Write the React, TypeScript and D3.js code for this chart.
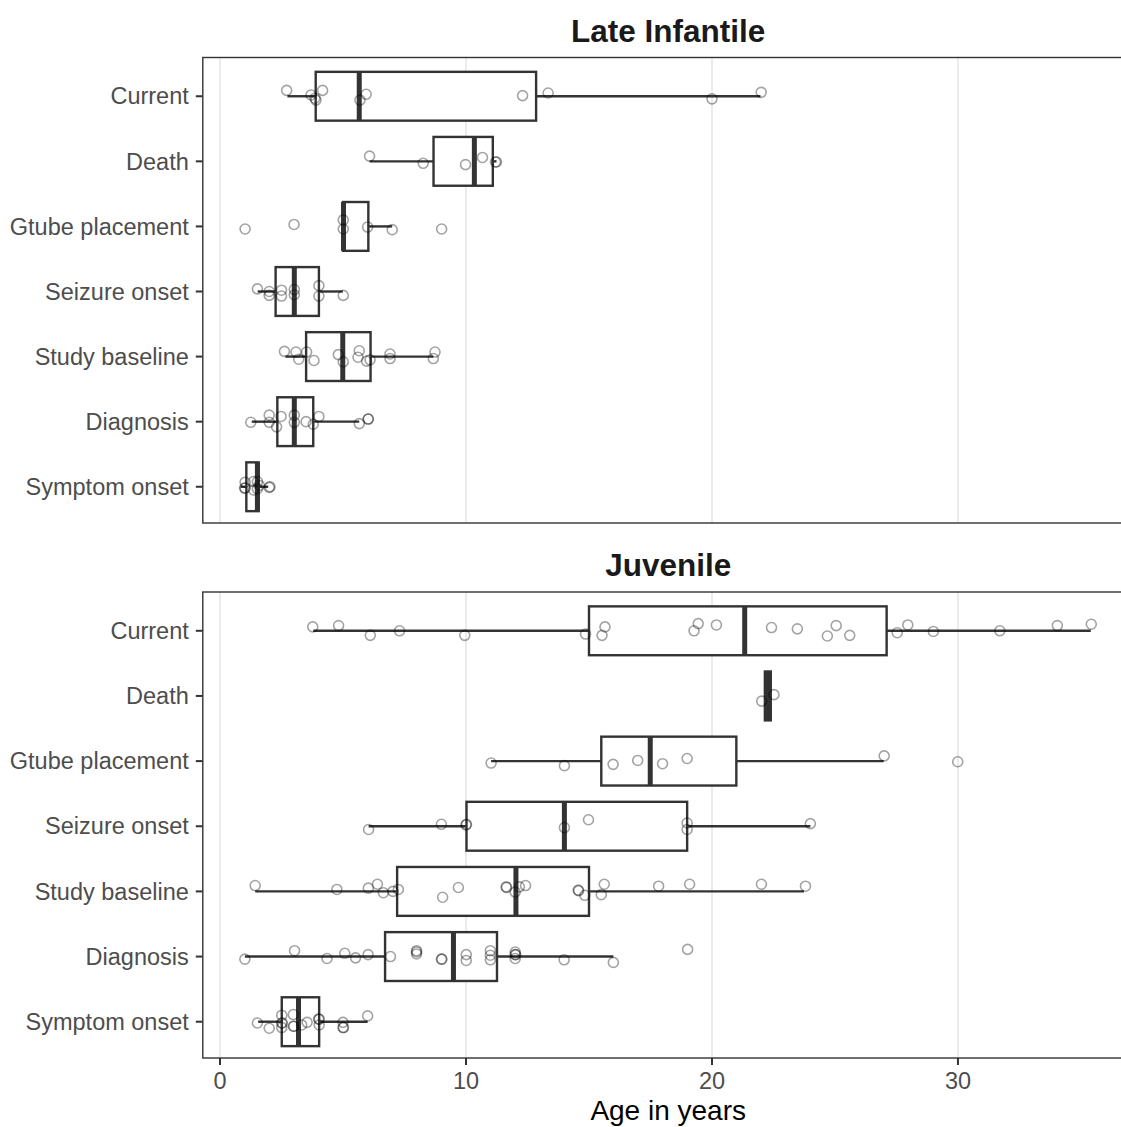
import React from "react";
import * as d3 from "d3";

const categories = [
  "Current",
  "Death",
  "Gtube placement",
  "Seizure onset",
  "Study baseline",
  "Diagnosis",
  "Symptom onset",
];

const panelTitles = ["Late Infantile", "Juvenile"];

// box stats per category: [whiskerLow, q1, median, q3, whiskerHigh]
const lateInfantileBoxes: number[][] = [
  [2.74, 3.89, 5.66, 12.85, 21.97],
  [6.08, 8.68, 10.34, 11.09, 11.24],
  [5.0, 5.0, 5.02, 6.03, 7.0],
  [1.53, 2.26, 3.02, 4.02, 4.99],
  [2.66, 3.5, 4.99, 6.12, 8.67],
  [1.29, 2.33, 3.02, 3.79, 5.66],
  [0.84, 1.07, 1.52, 1.57, 1.96],
];

const juvenileBoxes: number[][] = [
  [3.79, 15.0, 21.33, 27.1, 35.4],
  [22.15, 22.15, 22.27, 22.39, 22.39],
  [11.02, 15.5, 17.49, 20.99, 26.98],
  [6.04, 10.02, 14.0, 18.99, 24.0],
  [1.43, 7.2, 12.03, 15.0, 23.74],
  [1.01, 6.71, 9.49, 11.26, 15.99],
  [1.55, 2.51, 3.19, 4.03, 6.0],
];

// jittered observations: [age, vertical jitter in category units]
const liCurrent = [[2.71,-0.09],[3.7,-0.02],[3.86,0.03],[4.17,-0.09],[3.9,0.06],[5.69,0.06],[5.94,-0.03],[12.3,-0.01],[13.34,-0.05],[20.0,0.04],[22.0,-0.06]];
const liDeath = [[6.08,-0.08],[8.26,0.03],[9.98,0.05],[10.67,-0.06],[11.24,0.01],[11.2,0.01]];
const liGtube = [[1.02,0.04],[3.01,-0.03],[5.01,-0.1],[5.01,0.04],[6.0,0.01],[7.0,0.05],[9.01,0.04]];
const liSeizure = [[1.52,-0.04],[2.0,0.06],[2.0,0],[2.5,-0.02],[2.5,0.07],[3.02,-0.03],[3.02,0.05],[4.02,-0.09],[4.02,0.07],[5.01,0.06]];
const liStudy = [[2.62,-0.08],[3.09,-0.07],[3.2,0.04],[3.52,-0.07],[3.82,0.06],[4.81,-0.03],[5.01,0.08],[5.66,-0.09],[5.61,0.01],[5.96,0.07],[6.1,0.05],[6.91,-0.04],[6.91,0.03],[8.74,-0.07],[8.67,0.03]];
const liDiagnosis = [[1.25,0.01],[2.0,-0.1],[2.0,0.01],[2.3,0.08],[2.48,-0.08],[3.02,-0.1],[3.02,0.01],[3.5,0],[3.79,0.04],[4.02,-0.08],[5.66,0.03],[6.02,-0.04],[6.03,-0.04]];
const liSymptom = [[1.02,-0.07],[1.02,0.02],[1.0,0.02],[1.36,-0.08],[1.52,-0.08],[1.52,0.03],[1.6,-0.02],[2.03,0],[2.0,0.01],[1.36,0.05]];

const juCurrent = [[3.77,-0.06],[4.82,-0.08],[6.11,0.07],[7.3,0],[9.95,0.07],[14.86,0.05],[15.65,-0.06],[15.53,0.07],[19.27,0],[19.44,-0.11],[20.18,-0.09],[22.42,-0.05],[23.47,-0.03],[25.05,-0.08],[24.69,0.08],[25.6,0.07],[27.53,0.03],[27.96,-0.09],[29.0,0.01],[31.7,0],[34.04,-0.08],[35.42,-0.1]];
const juDeath = [[22.02,0.08],[22.52,-0.02]];
const juGtube = [[11.02,0.03],[14.0,0.07],[15.98,0.05],[16.98,-0.01],[17.99,0.04],[18.99,-0.04],[27.0,-0.08],[29.99,0.01]];
const juSeizure = [[6.04,0.05],[9.0,-0.03],[10.02,-0.03],[10.0,-0.02],[14.0,0.02],[14.98,-0.1],[18.99,-0.05],[18.99,0.05],[24.0,-0.04]];
const juStudy = [[1.43,-0.09],[4.75,-0.03],[6.03,-0.05],[6.4,-0.11],[6.64,0.02],[7.03,0],[7.25,-0.03],[9.05,0.09],[9.69,-0.06],[11.63,-0.07],[11.65,-0.06],[12.0,0.01],[12.17,-0.07],[12.42,-0.09],[14.56,-0.02],[14.58,-0.01],[14.83,0.06],[15.62,-0.11],[15.5,0.05],[17.83,-0.08],[19.09,-0.11],[22.01,-0.11],[23.8,-0.08]];
const juDiagnosis = [[1.01,0.04],[3.03,-0.09],[4.35,0.03],[5.07,-0.05],[5.51,0.02],[6.02,-0.03],[6.93,0],[7.99,-0.09],[7.99,-0.07],[7.99,-0.04],[9.0,0.04],[9.02,0.04],[10.01,-0.03],[10.01,0.06],[10.99,-0.09],[10.99,-0.02],[10.99,0.05],[12.0,-0.07],[12.0,-0.03],[12.02,-0.03],[12.0,0.03],[13.99,0.05],[15.99,0.09],[19.01,-0.11]];
const juSymptom = [[1.52,0.02],[2.0,0.1],[2.51,-0.1],[2.51,0.02],[2.53,0.02],[2.51,0.09],[2.98,-0.11],[2.98,0.07],[3.0,0.07],[3.32,0.05],[3.54,0.01],[4.03,-0.04],[4.01,-0.04],[4.03,0.05],[5.0,0.01],[5.0,0.09],[5.02,0.09],[6.0,-0.09]];

const lateInfantilePoints = [liCurrent, liDeath, liGtube, liSeizure, liStudy, liDiagnosis, liSymptom];
const juvenilePoints = [juCurrent, juDeath, juGtube, juSeizure, juStudy, juDiagnosis, juSymptom];

const xTicks = [0, 10, 20, 30];
const xDomain = [-0.7, 37.14];

const W = 1121;
const H = 1127;
const FONT = "'Liberation Sans', Arial, Helvetica, sans-serif";
const DARK = "#333333";

const x = d3.scaleLinear().domain(xDomain).range([202.8, 1133.6]);

const panels = [
  { title: panelTitles[0], boxes: lateInfantileBoxes, points: lateInfantilePoints, top: 57.5, bottom: 523, titleY: 42 },
  { title: panelTitles[1], boxes: juvenileBoxes, points: juvenilePoints, top: 592, bottom: 1058, titleY: 576 },
];

function Panel({ p, showX }: { p: any; showX: boolean }) {
  const y = d3.scalePoint<string>().domain(categories).range([p.top + 1, p.bottom + 1.5]).padding(0.58);
  const step = y.step();
  const bh = step * 0.75;
  const [x0, x1] = x.range();
  return (
    <g>
      <text x={(x0 + x1) / 2} y={p.titleY} textAnchor="middle" fontFamily={FONT} fontWeight="bold" fontSize={31.5} fill="#1a1a1a">
        {p.title}
      </text>
      <rect x={x0} y={p.top} width={x1 - x0} height={p.bottom - p.top} fill="white" />
      {xTicks.map((t) => (
        <line key={t} x1={x(t)} x2={x(t)} y1={p.top} y2={p.bottom} stroke="#ebebeb" strokeWidth={2} />
      ))}
      {categories.map((c, i) => {
        const [lo, q1, med, q3, hi] = p.boxes[i];
        const cy = y(c)!;
        return (
          <g key={c}>
            <line x1={x(lo)} x2={x(q1)} y1={cy} y2={cy} stroke={DARK} strokeWidth={2.4} />
            <line x1={x(q3)} x2={x(hi)} y1={cy} y2={cy} stroke={DARK} strokeWidth={2.4} />
            <rect x={x(q1)} y={cy - bh / 2} width={Math.max(x(q3) - x(q1), 0.5)} height={bh} fill="white" stroke={DARK} strokeWidth={2.4} />
            <line x1={x(med)} x2={x(med)} y1={cy - bh / 2} y2={cy + bh / 2} stroke={DARK} strokeWidth={5} />
          </g>
        );
      })}
      {categories.map((c, i) =>
        p.points[i].map((pt: number[], j: number) => (
          <circle key={c + j} cx={x(pt[0])} cy={y(c)! + pt[1] * step} r={5} fill="none" stroke="#000" strokeOpacity={0.36} strokeWidth={1.6} />
        ))
      )}
      <rect x={x0} y={p.top} width={x1 - x0} height={p.bottom - p.top} fill="none" stroke={DARK} strokeWidth={1.4} />
      {categories.map((c) => (
        <g key={"yl" + c}>
          <line x1={x0 - 7} x2={x0} y1={y(c)} y2={y(c)} stroke={DARK} strokeWidth={2} />
          <text x={x0 - 14} y={y(c)} dy="0.35em" textAnchor="end" fontFamily={FONT} fontSize={23.5} fill="#4d4d4d">
            {c}
          </text>
        </g>
      ))}
      {showX &&
        xTicks.map((t) => (
          <g key={"xt" + t}>
            <line x1={x(t)} x2={x(t)} y1={p.bottom} y2={p.bottom + 7} stroke={DARK} strokeWidth={2} />
            <text x={x(t)} y={p.bottom + 31} textAnchor="middle" fontFamily={FONT} fontSize={23.5} fill="#4d4d4d">
              {t}
            </text>
          </g>
        ))}
    </g>
  );
}

export default function App() {
  const [x0, x1] = x.range();
  return (
    <svg width={W} height={H} style={{ position: "absolute", left: 0, top: 0, background: "white" }}>
      <rect x={0} y={0} width={W} height={H} fill="white" />
      {panels.map((p, i) => (
        <Panel key={i} p={p} showX={i === panels.length - 1} />
      ))}
      <text x={(x0 + x1) / 2} y={1120} textAnchor="middle" fontFamily={FONT} fontSize={28} fill="#000">
        Age in years
      </text>
    </svg>
  );
}
